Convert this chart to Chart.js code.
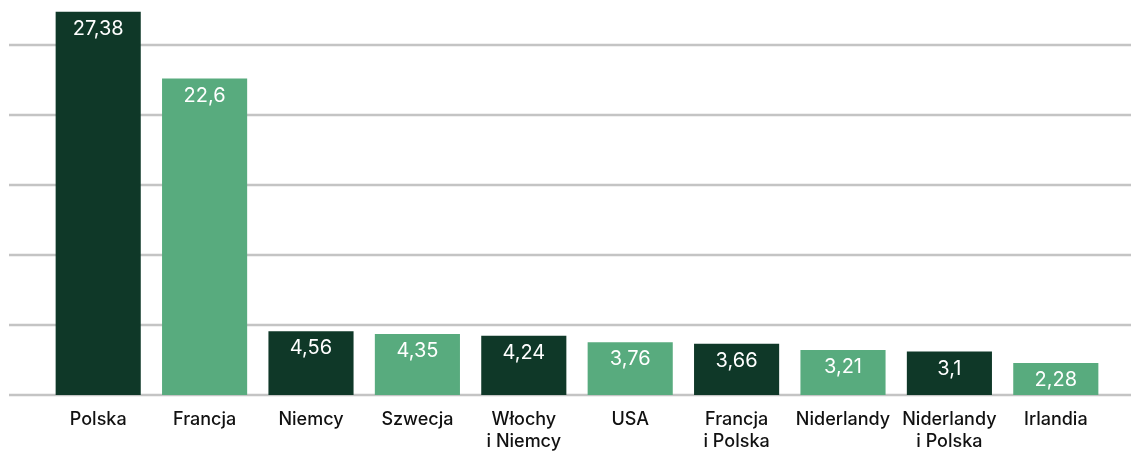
<!DOCTYPE html>
<html>
<head>
<meta charset="utf-8">
<script src="https://cdn.jsdelivr.net/npm/chart.js@4.4.1/dist/chart.umd.min.js"></script>
<style>
  html, body { margin: 0; padding: 0; background: #ffffff; }
  #wrap { width: 1131px; height: 451px; }
</style>
</head>
<body>
<div id="wrap"><canvas id="barChart" width="1131" height="451"></canvas></div>
<script>
// categories and values
const categories = [
    "Polska", "Francja", "Niemcy", "Szwecja", ["Włochy", "i Niemcy"],
    "USA", ["Francja", "i Polska"], "Niderlandy", ["Niderlandy", "i Polska"], "Irlandia"
];
const values = [27.38, 22.6, 4.56, 4.35, 4.24, 3.76, 3.66, 3.21, 3.1, 2.28];
const gridTicks = [0, 5, 10, 15, 20, 25];

const darkGreen = "#0f3828";
const lightGreen = "#58ab7e";
const barColors = values.map((v, i) => i % 2 === 0 ? darkGreen : lightGreen);

const fontFamily = "Inter, sans-serif";

// full-width horizontal grid lines
const wideGrid = {
    id: "wideGrid",
    beforeDatasetsDraw(chart) {
        const ctx = chart.ctx;
        const y = chart.scales.y;
        ctx.save();
        ctx.strokeStyle = "#c4c4c4";
        ctx.lineWidth = 2.5;
        gridTicks.forEach(t => {
            const py = Math.round(y.getPixelForValue(t));
            ctx.beginPath();
            ctx.moveTo(9, py);
            ctx.lineTo(chart.width, py);
            ctx.stroke();
        });
        ctx.restore();
    }
};

// value labels inside the top of each bar
const barValues = {
    id: "barValues",
    afterDatasetsDraw(chart) {
        const ctx = chart.ctx;
        const meta = chart.getDatasetMeta(0);
        ctx.save();
        ctx.fillStyle = "#ffffff";
        ctx.font = "20px " + fontFamily;
        ctx.textAlign = "center";
        ctx.textBaseline = "middle";
        meta.data.forEach((bar, i) => {
            const txt = String(values[i]).replace(".", ",");
            ctx.fillText(txt, bar.x, bar.y + 17);
        });
        ctx.restore();
    }
};

const ctx = document.getElementById("barChart").getContext("2d");
new Chart(ctx, {
    type: "bar",
    data: {
        labels: categories,
        datasets: [{
            data: values,
            backgroundColor: barColors,
            categoryPercentage: 0.8,
            barPercentage: 1.0
        }]
    },
    options: {
        responsive: false,
        animation: false,
        layout: { padding: { left: 45, right: 22, top: 3, bottom: 0 } },
        plugins: {
            legend: { display: false },
            tooltip: { enabled: false }
        },
        scales: {
            x: {
                grid: { display: false, drawTicks: false },
                border: { display: false },
                ticks: {
                    color: "#111111",
                    font: { family: fontFamily, size: 18, weight: "500", lineHeight: 1.2 },
                    padding: 14,
                    maxRotation: 0,
                    autoSkip: false
                },
                afterFit(scale) { scale.height = 56; }
            },
            y: {
                display: false,
                min: 0,
                max: 28,
                ticks: { stepSize: 5 }
            }
        }
    },
    plugins: [wideGrid, barValues]
});
</script>
</body>
</html>
